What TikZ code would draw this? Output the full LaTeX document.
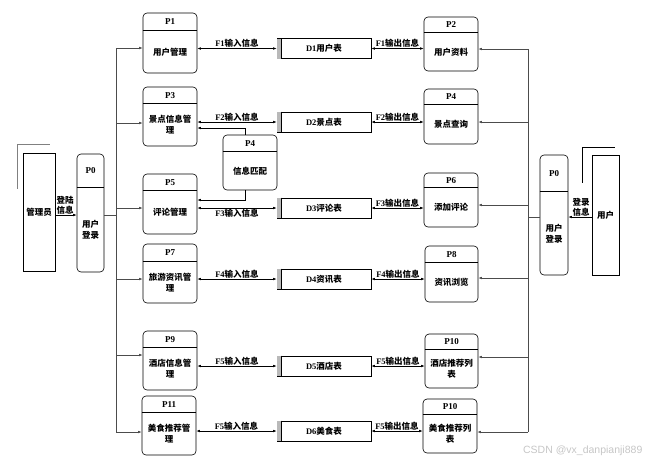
\documentclass[tikz,border=0pt]{standalone}
\usepackage{fontspec}
\setmainfont{Liberation Serif}
\newfontfamily\cjk{Noto Sans CJK SC}
\newfontfamily\wmfont{Liberation Sans}
\usetikzlibrary{arrows.meta, calc}

\begin{document}
\begin{tikzpicture}[x=1pt, y=-1pt,
	line width=0.6pt,
	>={Latex[length=3.5pt,width=2.6pt]},
	procbox/.style={draw, rounded corners=4pt, inner sep=0pt},
	ptitle/.style={font=\fontsize{9}{10}\selectfont\bfseries, inner sep=0pt},
	ptext/.style={font=\fontsize{8.5}{11}\selectfont\cjk\bfseries, align=center, inner sep=0pt},
	store/.style={draw, minimum width=94pt, minimum height=20pt, inner sep=0pt, font=\fontsize{8.5}{10}\selectfont\bfseries},
	entity/.style={draw, inner sep=0pt, font=\fontsize{8.5}{10}\selectfont\cjk\bfseries},
	flowlabel/.style={font=\fontsize{8.5}{10}\selectfont\bfseries, inner sep=0.8pt},
	bus/.style={draw=black!70},
]
\useasboundingbox (0,0) rectangle (655,464);

% external entities
\node[entity, minimum width=32pt, minimum height=118pt] (admin) at (39,212) {管理员};
\node[entity, minimum width=27pt, minimum height=120pt] (user) at (605.5,215) {用户};
\draw[gray] ($(admin.north west)+(-5,36)$) |- ($(admin.north east)+(-5,-8)$);
\draw ($(user.north west)+(-9,28)$) |- ($(user.north east)+(-4,-7)$);

% processes: name/x/top/bottom/divider/width/label/text
\foreach \n/\x/\t/\b/\d/\w/\lab/\txt in {
	lp0/90.5/154/272/34/27/P0/{用户\\登录},
	rp0/554/155/275/37/28/P0/{用户\\登录},
	p1/170/13/73/18/54/P1/{用户管理},
	p2/451/17/71/16/54/P2/{用户资料},
	p3/170/87/146/17/54/P3/{景点信息管\\理},
	p4/451/89/144/16/54/P4/{景点查询},
	match/250/135/190/17/54/P4/{信息匹配},
	p5/170/174/234/17/54/P5/{评论管理},
	p6/451/173/227/15/54/P6/{添加评论},
	p7/170/244/303/18/54/P7/{旅游资讯管\\理},
	p8/451.5/246/302/17/53/P8/{资讯浏览},
	p9/170/331/390/17/54/P9/{酒店信息管\\理},
	p10/451.5/334/388/16/53/P10/{酒店推荐列\\表},
	p11/169/396/455/17/54/P11/{美食推荐管\\理},
	p10b/450/399/453/16/54/P10/{美食推荐列\\表}} {
	\node[procbox, minimum width=\w, minimum height={\b-\t}] (\n) at (\x,{(\t+\b)/2}) {};
	\node[ptitle] at (\x,{\t+\d/2}) {\lab};
	\node[ptext] at (\x,{(\t+\d+\b)/2}) {\txt};
	\draw ($(\n.north west)+(0,\d)$) -- ($(\n.north east)+(0,\d)$);
}

% data stores
\node[store] (d1) at (324,48.5) {D1{\cjk 用户表}};
\node[store] (d2) at (324,122) {D2{\cjk 景点表}};
\node[store] (d3) at (324,208) {D3{\cjk 评论表}};
\node[store] (d4) at (324,279) {D4{\cjk 资讯表}};
\node[store] (d5) at (324,366) {D5{\cjk 酒店表}};
\node[store] (d6) at (324,431) {D6{\cjk 美食表}};
\foreach \i in {1,...,6} {
	\fill[gray!55] ($(d\i.north west)+(0.5,0.3)$) rectangle ($(d\i.south west)+(4.5,-0.3)$);
	\draw ($(d\i.north west)+(5,0)$) -- ($(d\i.south west)+(5,0)$);
}

% data flows
\foreach \i/\f/\pl/\pr/\pos in {1/1/p1/p2/above, 2/2/p3/p4/above, 3/3/p5/p6/below,
	4/4/p7/p8/above, 5/5/p9/p10/above, 6/5/p11/p10b/above} {
	\draw[<->] (\pl.east |- d\i.west) -- node[flowlabel, \pos] {F\f{\cjk 输入信息}} (d\i.west);
	\draw[<->] (d\i.east) -- node[flowlabel, above] {F\f{\cjk 输出信息}} (\pr.west |- d\i.east);
}
\draw[->] ($(match.north)+(-5,0)$) |- (p3.east |- 0,128);
\draw[->] ($(match.south)+(-5,0)$) |- (p5.east |- 0,200);

% login
\draw[->] (admin.east |- 0,215) -- node[flowlabel, above, font=\fontsize{8.5}{10}\selectfont\cjk\bfseries, align=center, xshift=-1pt] {登陆\\信息} (lp0.west |- 0,215);
\draw[->] (user.west |- 0,217) -- node[flowlabel, above, font=\fontsize{8.5}{10}\selectfont\cjk\bfseries, align=center, xshift=1pt] {登录\\信息} (rp0.east |- 0,217);

% buses
\coordinate (lbtop) at (116,48);
\coordinate (lbbot) at (116,432);
\coordinate (rbtop) at (528,49);
\coordinate (rbbot) at (528,432);
\draw[bus] (lbtop) -- (lbbot);
\draw[bus] (rbtop) -- (rbbot);
\draw[bus] (lp0.east |- 0,215) -- (lbtop |- 0,215);
\draw[bus] (rp0.west |- 0,217) -- (rbtop |- 0,217);
\foreach \n/\y in {p1/48, p3/123, p5/208, p7/279, p9/355, p11/432}
	\draw[bus, ->] (lbtop |- 0,\y) -- (\n.west |- 0,\y);
\foreach \n/\y in {p2/49, p4/122, p6/205, p8/278, p10/357, p10b/432}
	\draw[bus, ->] (rbtop |- 0,\y) -- (\n.east |- 0,\y);

\node[font=\wmfont\fontsize{10.5}{12}\selectfont, text=gray!45, anchor=east] (mark) at (646,451) {CSDN @vx\_danpianji889};
\end{tikzpicture}
\end{document}
